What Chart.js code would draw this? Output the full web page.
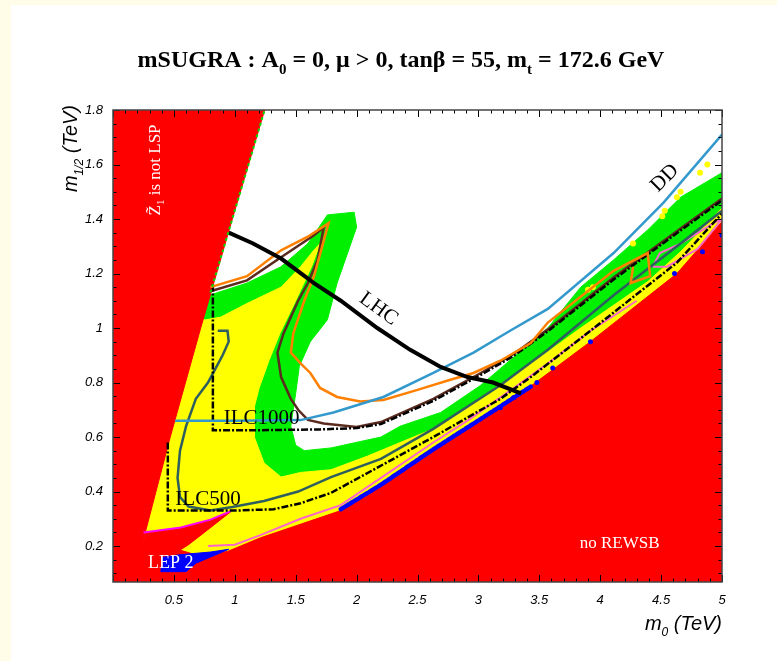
<!DOCTYPE html>
<html>
<head>
<meta charset="utf-8">
<script src="https://cdn.jsdelivr.net/npm/chart.js@4.4.1/dist/chart.umd.min.js"></script>
<style>
  body { margin: 0; background: #fffde8; }
  #sheet { position: absolute; left: 11px; top: 5px; width: 766px; height: 656px; background: #fff; }
  #plot { position: absolute; left: 0; top: 0; }
</style>
</head>
<body>
<div id="sheet"></div>
<canvas id="plot" width="777" height="661"></canvas>
<script>
// axis ranges and tick labels (TeV)
const yMin = 0.068;
const xTicks = [0.5, 1, 1.5, 2, 2.5, 3, 3.5, 4, 4.5, 5];
const yTicks = [0.2, 0.4, 0.6, 0.8, 1, 1.2, 1.4, 1.6, 1.8];

// regions in the (m0, m1/2) plane
const greenRegion = [[0,1.12],[0.79,1.12],[1.10,1.165],[1.38,1.225],[1.60,1.31],[1.76,1.415],[1.98,1.425],[2.0,1.37],[1.84,1.165],[1.76,1.03],[1.62,0.95],[1.53,0.86],[1.50,0.76],[1.46,0.64],[1.50,0.57],[1.57,0.55],[1.79,0.56],[2.2,0.60],[2.36,0.64],[2.69,0.69],[3.02,0.79],[3.57,1.0],[3.84,1.15],[4.11,1.25],[4.39,1.36],[4.66,1.48],[5,1.57],[5,yMin],[0,yMin]];
const yellowRegion = [[0,1.03],[0.76,1.03],[0.885,1.04],[1.10,1.09],[1.38,1.15],[1.54,1.225],[1.65,1.286],[1.70,1.31],[1.63,1.225],[1.50,1.10],[1.37,0.98],[1.28,0.88],[1.20,0.78],[1.16,0.71],[1.16,0.60],[1.24,0.505],[1.38,0.453],[1.54,0.47],[1.79,0.48],[2.09,0.53],[2.63,0.63],[3.07,0.76],[3.5,0.89],[3.84,1.0],[4.39,1.17],[4.66,1.28],[5,1.44],[5,yMin],[0,yMin]];
const lspRegion = [[0,yMin],[0,1.8],[1.245,1.8],[0.98,1.40],[0.72,1.0],[0.47,0.6],[0.23,0.19],[0.21,yMin]];
const rewsbRegion = [[0.21,yMin],[0.23,0.19],[0.27,0.247],[0.557,0.266],[0.80,0.295],[0.967,0.326],[0.776,0.259],[0.62,0.205],[0.55,0.185],[0.70,0.165],[0.94,0.18],[1.21,0.23],[1.54,0.28],[1.87,0.33],[2.2,0.42],[2.63,0.55],[2.91,0.63],[3.29,0.74],[3.92,0.95],[4.63,1.20],[5,1.39],[5,yMin]];
const lepRegion = [[0.39,0.106],[0.60,0.106],[0.68,0.137],[0.95,0.188],[0.80,0.178],[0.55,0.168],[0.40,0.158]];

// blue and yellow scan points
const blueBand = [[1.87,0.335],[2.2,0.425],[2.63,0.555],[2.91,0.635],[3.12,0.695],[3.43,0.785]];
const blueDots = [[3.18,0.707],[3.29,0.745],[3.48,0.80],[3.61,0.853],[3.92,0.95],[4.61,1.20],[4.84,1.28],[5.0,1.34]];
const yellowDots = [[3.90,1.14],[3.94,1.15],[4.27,1.31],[4.51,1.41],[4.53,1.43],[4.63,1.48],[4.66,1.50],[4.82,1.57],[4.88,1.60]];

// contours
const lhcCurve = [[0.95,1.35],[1.15,1.31],[1.38,1.255],[1.65,1.165],[1.87,1.10],[2.17,1.00],[2.44,0.92],[2.69,0.857],[2.91,0.82],[3.12,0.80],[3.35,0.76]];
const ddCurve = [[0.51,0.66],[1.0,0.66],[1.54,0.662],[1.81,0.69],[2.22,0.747],[2.63,0.835],[2.96,0.91],[3.26,0.99],[3.57,1.07],[4.11,1.275],[4.52,1.46],[5.0,1.71]];
const orangeCurve = [[0.80,1.15],[1.10,1.19],[1.38,1.285],[1.60,1.335],[1.77,1.385],[1.73,1.32],[1.65,1.19],[1.57,1.10],[1.48,0.98],[1.46,0.91],[1.54,0.87],[1.62,0.835],[1.70,0.78],[1.84,0.747],[2.03,0.73],[2.22,0.736],[2.5,0.773],[2.77,0.81],[2.96,0.835],[3.18,0.88],[3.43,0.945],[3.57,1.02],[4.11,1.21],[4.39,1.275],[4.41,1.19],[4.25,1.165],[4.27,1.225]];
const brownCurve = [[0.80,1.135],[1.10,1.175],[1.38,1.26],[1.65,1.34],[1.73,1.37],[1.68,1.25],[1.60,1.165],[1.52,1.10],[1.40,0.98],[1.35,0.91],[1.38,0.82],[1.46,0.74],[1.52,0.70],[1.60,0.663],[1.73,0.65],[2.0,0.637],[2.2,0.655],[2.63,0.74],[3.02,0.835],[3.29,0.905],[3.57,0.995],[4.11,1.185],[4.66,1.365],[5.0,1.475]];
const ilc1000Curve = [[0.82,1.16],[0.82,0.625],[1.2,0.625],[1.7,0.628],[2.0,0.633],[2.2,0.648],[2.63,0.733],[3.02,0.828],[3.29,0.898],[3.57,0.988],[4.11,1.178],[4.66,1.358],[5.0,1.468]];
const ilc500Curve = [[0.45,0.58],[0.45,0.33],[1.0,0.33],[1.32,0.335],[1.54,0.357],[1.79,0.395],[2.09,0.468],[2.63,0.60],[3.18,0.74],[3.43,0.82],[3.92,0.99],[4.63,1.24],[5.0,1.42]];
const tealCurve = [[0.86,0.99],[0.94,0.99],[0.95,0.95],[0.90,0.90],[0.84,0.85],[0.78,0.80],[0.68,0.74],[0.60,0.64],[0.55,0.55],[0.53,0.45],[0.55,0.38],[0.62,0.345],[0.80,0.33],[0.98,0.343],[1.24,0.365],[1.52,0.40],[1.79,0.453],[2.2,0.52],[2.63,0.63],[3.18,0.79],[3.57,0.92],[4.11,1.12],[4.66,1.31],[5.0,1.43]];
const pinkCurve = [[0.78,0.20],[1.0,0.205],[1.21,0.24],[1.54,0.30],[1.87,0.35],[2.2,0.45],[2.63,0.58],[2.91,0.66],[3.29,0.78],[3.6,0.88],[3.92,0.99],[4.3,1.10]];
const pinkLoop = [[4.43,1.225],[4.49,1.275],[4.66,1.31],[4.93,1.385],[5.0,1.40],[4.80,1.29],[4.55,1.225],[4.43,1.225]];
const spikeEdge = [[0.25,0.25],[0.557,0.268],[0.80,0.297],[0.967,0.328]];
const wedgeEdge = [[0.80,1.13],[1.245,1.8]];

// text drawn on the plot
const notes = [
  { pieces: [{ t: 'Z\u0303' }, { t: '1', sub: true }, { t: ' is not LSP' }], x: 0.35, y: 1.58, rot: -90, color: '#fff', size: 17 },
  { pieces: [{ t: 'LHC' }], x: 2.18, y: 1.07, rot: 36, color: '#000', size: 21 },
  { pieces: [{ t: 'DD' }], x: 4.53, y: 1.55, rot: -45, color: '#000', size: 21 },
  { pieces: [{ t: 'ILC1000' }], x: 1.22, y: 0.668, rot: 0, color: '#000', size: 21 },
  { pieces: [{ t: 'ILC500' }], x: 0.78, y: 0.37, rot: 0, color: '#000', size: 21 },
  { pieces: [{ t: 'LEP 2' }], x: 0.475, y: 0.138, rot: 0, color: '#fff', size: 18 },
  { pieces: [{ t: 'no REWSB' }], x: 4.16, y: 0.21, rot: 0, color: '#fff', size: 17 }
];

const SERIF = '"Liberation Serif", "Times New Roman", serif';
const SANS = '"Liberation Sans", Arial, sans-serif';

function xy(arr) {
  return arr.map(p => ({ x: p[0], y: p[1] }));
}

function region(arr, color) {
  return { data: xy(arr), showLine: true, fill: 'shape', backgroundColor: color,
           borderColor: color, borderWidth: 1, pointRadius: 0, tension: 0 };
}

function curve(arr, color, width, dash) {
  return { data: xy(arr), showLine: true, fill: false, borderColor: color,
           borderWidth: width, borderDash: dash || [], pointRadius: 0, tension: 0 };
}

function dots(arr, color, r) {
  return { data: xy(arr), showLine: false, pointRadius: r, pointBackgroundColor: color,
           pointBorderWidth: 0 };
}

// draws text made of normal and subscript pieces, returns its width
function drawPieces(ctx, pieces, x, y, size, font, family, align) {
  const big = font + ' ' + size + 'px ' + family;
  const small = font + ' ' + Math.round(size * 0.62) + 'px ' + family;
  let w = 0;
  pieces.forEach(p => { ctx.font = p.sub ? small : big; w += ctx.measureText(p.t).width; });
  let cx = align === 'center' ? x - w / 2 : align === 'right' ? x - w : x;
  pieces.forEach(p => {
    ctx.font = p.sub ? small : big;
    ctx.fillText(p.t, cx, y + (p.sub ? size * 0.3 : 0));
    cx += ctx.measureText(p.t).width;
  });
  return w;
}

// layers listed bottom to top
const blueChain = curve(blueBand, '#0000ff', 4.5, [4, 1.5]);
blueChain.borderCapStyle = 'round';
const layers = [
  region(greenRegion, '#00f000'),
  region(yellowRegion, '#ffff00'),
  region(lspRegion, '#ff0000'),
  region(rewsbRegion, '#ff0000'),
  region(lepRegion, '#0000ff'),
  blueChain,
  dots(blueDots, '#0000ff', 2.5),
  dots(yellowDots, '#ffff00', 3),
  curve(pinkCurve, '#ff66cc', 2),
  curve(pinkLoop, '#ff66cc', 2),
  curve(spikeEdge, '#ff00ff', 2),
  curve(tealCurve, '#2e5e5e', 2.5),
  curve(ilc500Curve, '#000000', 2.5, [7, 2, 2, 2]),
  curve(brownCurve, '#5a2b1e', 2.5),
  curve(ilc1000Curve, '#000000', 2.5, [7, 2, 2, 2]),
  curve(orangeCurve, '#ff8000', 2.5),
  curve(ddCurve, '#3399cc', 2.5),
  curve(lhcCurve, '#000000', 4),
  curve(wedgeEdge, '#00dd00', 2, [3, 3])
];
layers.forEach((d, i) => { d.order = layers.length - i; });

// ticks pointing into the frame on all four sides
const frameTicks = {
  id: 'frameTicks',
  afterDatasetsDraw(chart) {
    const { ctx, chartArea: a, scales: { x, y } } = chart;
    ctx.save();
    ctx.strokeStyle = '#000';
    ctx.lineWidth = 1;
    ctx.beginPath();
    for (let i = 0; i <= 50; i++) {
      const px = Math.round(x.getPixelForValue(i / 10)) + 0.5;
      const len = i % 5 === 0 ? 7 : 3.5;
      ctx.moveTo(px, a.bottom); ctx.lineTo(px, a.bottom - len);
      ctx.moveTo(px, a.top); ctx.lineTo(px, a.top + len);
    }
    for (let i = 2; i <= 36; i++) {
      const py = Math.round(y.getPixelForValue(i / 20)) + 0.5;
      const len = i % 4 === 0 ? 7 : 3.5;
      ctx.moveTo(a.left, py); ctx.lineTo(a.left + len, py);
      ctx.moveTo(a.right, py); ctx.lineTo(a.right - len, py);
    }
    ctx.stroke();
    ctx.strokeStyle = '#444';
    ctx.lineWidth = 1.5;
    ctx.strokeRect(a.left, a.top, a.right - a.left, a.bottom - a.top);
    ctx.restore();
  }
};

// title, axis titles and the labels inside the plot
const annotations = {
  id: 'annotations',
  afterDraw(chart) {
    const { ctx, scales: { x, y } } = chart;
    ctx.save();
    ctx.fillStyle = '#000';
    ctx.textBaseline = 'alphabetic';

    const title = [{ t: 'mSUGRA : A' }, { t: '0', sub: true }, { t: ' = 0, \u03bc > 0, tan\u03b2 = 55, m' },
                   { t: 't', sub: true }, { t: ' = 172.6 GeV' }];
    ctx.save();
    ctx.globalAlpha = 0;
    const tw = drawPieces(ctx, title, 0, 0, 24, 'bold', SERIF, 'left');
    ctx.restore();
    const sx = Math.min(1, 528 / tw);
    ctx.save();
    ctx.translate(401, 67);
    ctx.scale(sx, 1);
    drawPieces(ctx, title, 0, 0, 24, 'bold', SERIF, 'center');
    ctx.restore();

    drawPieces(ctx, [{ t: 'm' }, { t: '0', sub: true }, { t: ' (TeV)' }], 722, 630, 20, 'italic', SANS, 'right');

    ctx.save();
    ctx.translate(77, 105);
    ctx.rotate(-Math.PI / 2);
    drawPieces(ctx, [{ t: 'm' }, { t: '1/2', sub: true }, { t: ' (TeV)' }], 0, 0, 20, 'italic', SANS, 'right');
    ctx.restore();

    ctx.textBaseline = 'middle';
    notes.forEach(n => {
      ctx.save();
      ctx.translate(x.getPixelForValue(n.x), y.getPixelForValue(n.y));
      ctx.rotate(n.rot * Math.PI / 180);
      ctx.fillStyle = n.color;
      drawPieces(ctx, n.pieces, 0, 0, n.size, 'normal', SERIF, 'center');
      ctx.restore();
    });
    ctx.restore();
  }
};

const tickFont = { family: SANS, size: 13, style: 'italic' };

new Chart(document.getElementById('plot').getContext('2d'), {
  type: 'line',
  data: { datasets: layers },
  options: {
    responsive: false,
    animation: false,
    layout: { padding: { left: 0, top: 110, right: 55, bottom: 0 } },
    plugins: { legend: { display: false }, tooltip: { enabled: false } },
    scales: {
      x: {
        type: 'linear', min: 0, max: 5,
        afterBuildTicks: s => { s.ticks = xTicks.map(v => ({ value: v })); },
        afterFit: s => { s.height = 79; },
        ticks: { font: tickFont, color: '#000', padding: 11, maxRotation: 0, autoSkip: false,
                 callback: v => String(v) },
        grid: { display: false, drawTicks: false },
        border: { display: false }
      },
      y: {
        type: 'linear', min: yMin, max: 1.8,
        afterBuildTicks: s => { s.ticks = yTicks.map(v => ({ value: v })); },
        afterFit: s => { s.width = 113; },
        ticks: { font: tickFont, color: '#000', padding: 10, autoSkip: false,
                 callback: v => String(v) },
        grid: { display: false, drawTicks: false },
        border: { display: false }
      }
    }
  },
  plugins: [frameTicks, annotations]
});
</script>
</body>
</html>
